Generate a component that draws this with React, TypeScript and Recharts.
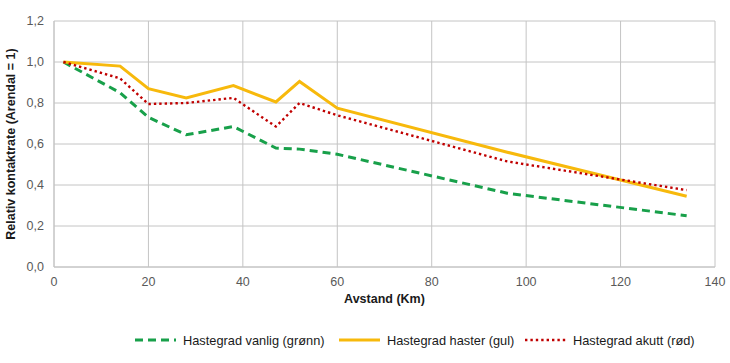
import React from "react";
import { LineChart, Line, XAxis, YAxis, CartesianGrid } from "recharts";

const distances = [2, 14, 20, 28, 38, 47, 52, 60, 96, 134];
const vanlig = [1.0, 0.85, 0.73, 0.645, 0.685, 0.58, 0.575, 0.55, 0.36, 0.25];
const haster = [1.0, 0.98, 0.87, 0.825, 0.885, 0.805, 0.905, 0.775, 0.56, 0.345];
const akutt = [1.0, 0.92, 0.795, 0.8, 0.825, 0.685, 0.8, 0.74, 0.515, 0.375];

const xTicks = [0, 20, 40, 60, 80, 100, 120, 140];
const yTicks = [0, 0.2, 0.4, 0.6, 0.8, 1.0, 1.2];

const seriesNames = [
  "Hastegrad vanlig (grønn)",
  "Hastegrad haster (gul)",
  "Hastegrad akutt (rød)",
];

const data = distances.map((d, i) => ({
  km: d,
  vanlig: vanlig[i],
  haster: haster[i],
  akutt: akutt[i],
}));

const GREEN = "#18a04a";
const YELLOW = "#f7b90c";
const RED = "#c00000";
const GRID = "#c4c4c4";
const FONT = "'Liberation Sans', Arial, sans-serif";

const fmt = (v: number) => v.toFixed(1).replace(".", ",");

const YLabel = (props: any) => {
  const vb = props.viewBox || {};
  const x = (vb.x ?? 0) + 11;
  const y = (vb.y ?? 0) + (vb.height ?? 0) / 2;
  return (
    <text
      x={x}
      y={y}
      transform={`rotate(-90, ${x}, ${y})`}
      textAnchor="middle"
      dominantBaseline="central"
      fontFamily={FONT}
      fontSize={12.5}
      fontWeight="bold"
      fill="#1a1a1a"
    >
      Relativ kontaktrate (Arendal = 1)
    </text>
  );
};

const XLabel = (props: any) => {
  const vb = props.viewBox || {};
  const x = (vb.x ?? 0) + (vb.width ?? 0) / 2;
  const y = 303;
  return (
    <text
      x={x}
      y={y}
      textAnchor="middle"
      fontFamily={FONT}
      fontSize={12.5}
      fontWeight="bold"
      fill="#1a1a1a"
    >
      Avstand (Km)
    </text>
  );
};

const legendItems = [
  { name: seriesNames[0], color: GREEN, dash: "8 5", width: 3, left: 135 },
  { name: seriesNames[1], color: YELLOW, dash: undefined, width: 3, left: 339 },
  { name: seriesNames[2], color: RED, dash: "2.4 3", width: 2.4, left: 525 },
];

export default function App() {
  return (
    <div style={{ position: "absolute", left: 0, top: 0, width: 730, height: 363, background: "#fff" }}>
      <LineChart
        width={730}
        height={363}
        data={data}
        margin={{ top: 21, right: 15, bottom: 56, left: 0 }}
      >
        <CartesianGrid stroke={GRID} strokeWidth={1} />
        <XAxis
          dataKey="km"
          type="number"
          domain={[0, 140]}
          ticks={xTicks}
          interval={0}
          height={40}
          axisLine={{ stroke: GRID }}
          tickLine={false}
          tickSize={6}
          tickMargin={4}
          tick={{ fill: "#595959", fontSize: 12.5, fontFamily: FONT }}
          label={<XLabel />}
        />
        <YAxis
          type="number"
          domain={[0, 1.2]}
          ticks={yTicks}
          interval={0}
          width={54}
          axisLine={{ stroke: GRID }}
          tickLine={false}
          tickSize={6}
          tickMargin={4}
          tickFormatter={fmt}
          tick={{ fill: "#595959", fontSize: 12.5, fontFamily: FONT }}
          label={<YLabel />}
        />
        <Line
          type="linear"
          dataKey="vanlig"
          name={seriesNames[0]}
          stroke={GREEN}
          strokeWidth={3}
          strokeDasharray="8 5"
          dot={false}
          isAnimationActive={false}
        />
        <Line
          type="linear"
          dataKey="haster"
          name={seriesNames[1]}
          stroke={YELLOW}
          strokeWidth={3}
          dot={false}
          isAnimationActive={false}
        />
        <Line
          type="linear"
          dataKey="akutt"
          name={seriesNames[2]}
          stroke={RED}
          strokeWidth={2.4}
          strokeDasharray="2.4 3"
          dot={false}
          isAnimationActive={false}
        />
      </LineChart>
      {legendItems.map((it, i) => (
        <div
          key={i}
          style={{
            position: "absolute",
            left: it.left,
            top: 332,
            height: 16,
            display: "flex",
            alignItems: "center",
            fontFamily: FONT,
            fontSize: 12.8,
            color: "#1a1a1a",
            whiteSpace: "nowrap",
          }}
        >
          <svg width={41} height={10} style={{ marginRight: 7 }}>
            <line
              x1={0}
              y1={5}
              x2={41}
              y2={5}
              stroke={it.color}
              strokeWidth={it.width}
              strokeDasharray={it.dash}
            />
          </svg>
          <span>{it.name}</span>
        </div>
      ))}
    </div>
  );
}
